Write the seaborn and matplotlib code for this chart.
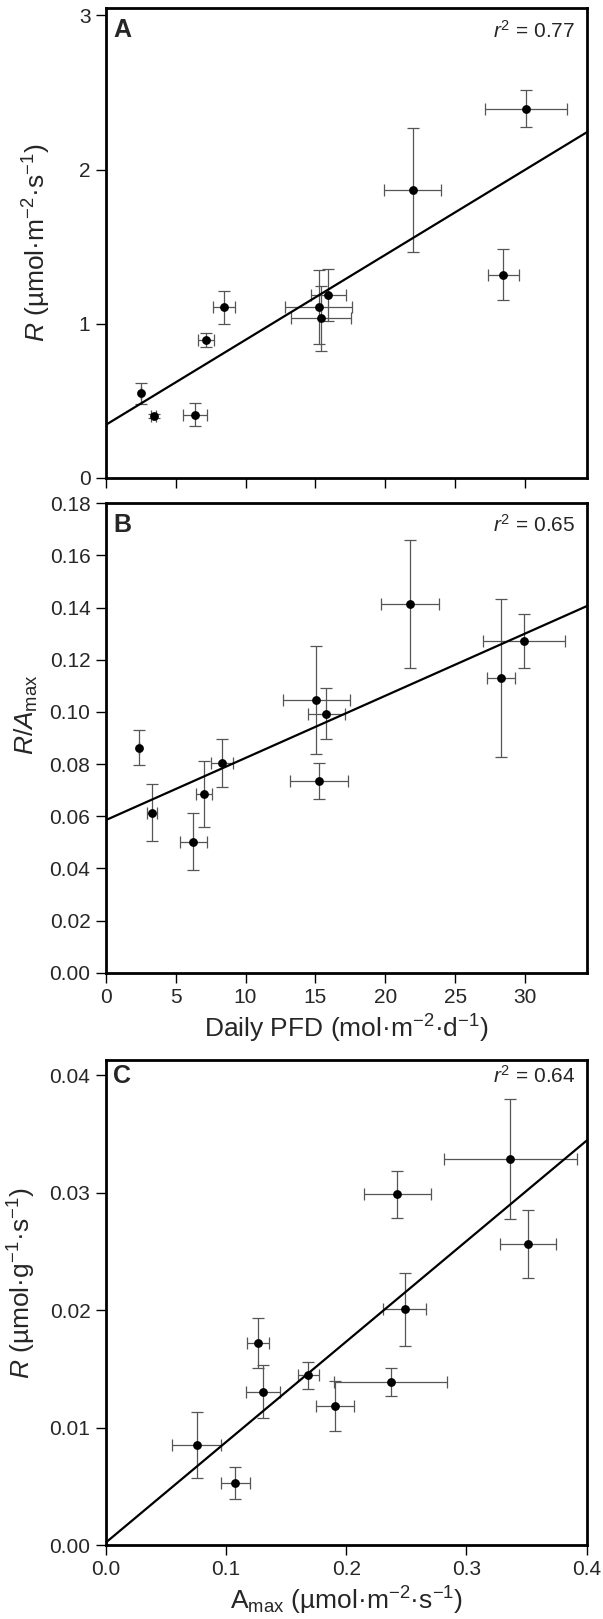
import numpy as np
import matplotlib
matplotlib.use('Agg')
import matplotlib.pyplot as plt
import seaborn as sns

# ---- data ----
# panel A: respiration vs daily PFD
a_pfd = [2.5, 3.43, 6.39, 7.16, 8.48, 15.23, 15.42, 15.92, 21.95, 28.43, 30.08]
a_pfd_err = [0.0, 0.2, 0.88, 0.58, 0.78, 2.4, 2.15, 1.26, 2.06, 1.1, 2.92]
a_r = [0.547, 0.401, 0.408, 0.894, 1.106, 1.106, 1.035, 1.187, 1.868, 1.319, 2.395]
a_r_err = [0.067, 0.01, 0.074, 0.046, 0.107, 0.24, 0.21, 0.17, 0.40, 0.163, 0.12]
a_fit = (0.343, 0.0552)   # intercept, slope
a_r2 = 0.77

# panel B: R/Amax vs daily PFD
b_pfd = [2.36, 3.29, 6.26, 7.03, 8.31, 15.07, 15.78, 15.26, 21.76, 28.24, 29.91]
b_pfd_err = [0.0, 0.35, 0.95, 0.58, 0.8, 2.4, 1.33, 2.1, 2.09, 1.0, 2.92]
b_ratio = [0.0863, 0.0614, 0.0503, 0.0685, 0.0804, 0.1044, 0.0993, 0.0734, 0.1414, 0.1132, 0.1273]
b_ratio_err = [0.0068, 0.0108, 0.011, 0.0125, 0.0092, 0.0207, 0.0098, 0.0069, 0.0247, 0.0303, 0.0103]
b_fit = (0.0585, 0.002386)
b_r2 = 0.65

# panel C: mass-based R vs Amax
c_amax = [0.0757, 0.1079, 0.1267, 0.1306, 0.1686, 0.1906, 0.2369, 0.2426, 0.2487, 0.3365, 0.3512]
c_amax_err = [0.0204, 0.0121, 0.0094, 0.0142, 0.0088, 0.0156, 0.0472, 0.0276, 0.0177, 0.0554, 0.0235]
c_r = [0.00854, 0.00526, 0.01723, 0.01304, 0.01446, 0.01184, 0.01386, 0.02986, 0.02006, 0.03288, 0.02564]
c_r_err = [0.0028, 0.00135, 0.00214, 0.00225, 0.00115, 0.00214, 0.0012, 0.002, 0.00309, 0.00513, 0.0029]
c_fit = (0.0002, 0.0856)
c_r2 = 0.64

pfd_ticks = [0, 5, 10, 15, 20, 25, 30]

# ---- style ----
sns.set_theme(style='ticks')
plt.rcParams['font.family'] = ['Liberation Sans', 'DejaVu Sans']
plt.rcParams['mathtext.fontset'] = 'custom'
plt.rcParams['mathtext.rm'] = 'Liberation Sans'
plt.rcParams['mathtext.it'] = 'Liberation Sans:italic'
plt.rcParams['mathtext.bf'] = 'Liberation Sans:bold'

fig = plt.figure(figsize=(6.03, 16.19), dpi=100)
axA = fig.add_axes([0.1753, 0.7049, 0.7977, 0.2903])
axB = fig.add_axes([0.1753, 0.3992, 0.7977, 0.2899])
axC = fig.add_axes([0.1753, 0.0457, 0.7977, 0.2996])


def panel(ax, x, xerr, y, yerr, fit, r2, letter, xlim, ylim, letter_y):
    ax.errorbar(x, y, xerr=xerr, yerr=yerr, fmt='none', ecolor='#555555',
                elinewidth=0.9, capsize=4, capthick=0.9, zorder=2)
    sns.scatterplot(x=x, y=y, ax=ax, color='black', s=40, edgecolor='black',
                    linewidth=0, zorder=3)
    xs = np.array(xlim)
    sns.lineplot(x=xs, y=fit[0] + fit[1] * xs, ax=ax, color='black', lw=1.6,
                 zorder=4)
    ax.set_xlim(xlim)
    ax.set_ylim(ylim)
    for s in ax.spines.values():
        s.set_visible(True)
        s.set_linewidth(2.0)
        s.set_color('black')
    ax.tick_params(direction='out', length=7, width=1.0, labelsize=15,
                   color='black', pad=4)
    ax.text(0.016, letter_y, letter, transform=ax.transAxes, fontsize=18,
            fontweight='bold', ha='left', va='baseline')
    ax.text(0.976, letter_y, r'$\mathit{r}^2$ = %.2f' % r2, transform=ax.transAxes,
            fontsize=15, ha='right', va='baseline')


panel(axA, a_pfd, a_pfd_err, a_r, a_r_err, a_fit, a_r2, 'A', (0, 34.4), (0, 3.05), 0.937)
axA.set_xticks(pfd_ticks)
axA.set_xticklabels([])
axA.set_yticks([0, 1, 2, 3])
axA.set_ylabel(r'$\mathit{R}$ (µmol·m$^{-2}$·s$^{-1}$)', fontsize=19)
axA.yaxis.set_label_coords(-0.109, 0.5)

panel(axB, b_pfd, b_pfd_err, b_ratio, b_ratio_err, b_fit, b_r2, 'B', (0, 34.4), (0, 0.18), 0.9395)
axB.set_xticks(pfd_ticks)
axB.set_yticks(np.arange(0, 0.181, 0.02))
axB.yaxis.set_major_formatter(matplotlib.ticker.FormatStrFormatter('%.2f'))
axB.set_ylabel(r'$\mathit{R}/\mathit{A}_{\mathrm{max}}$', fontsize=19)
axB.yaxis.set_label_coords(-0.137, 0.55)
axB.set_xlabel(r'Daily PFD (mol·m$^{-2}$·d$^{-1}$)', fontsize=19, labelpad=4)

panel(axC, c_amax, c_amax_err, c_r, c_r_err, c_fit, c_r2, 'C', (0, 0.4), (0, 0.0413), 0.952)
axC.set_xticks([0, 0.1, 0.2, 0.3, 0.4])
axC.xaxis.set_major_formatter(matplotlib.ticker.FormatStrFormatter('%.1f'))
axC.set_yticks([0, 0.01, 0.02, 0.03, 0.04])
axC.yaxis.set_major_formatter(matplotlib.ticker.FormatStrFormatter('%.2f'))
axC.set_ylabel(r'$\mathit{R}$ (µmol·g$^{-1}$·s$^{-1}$)', fontsize=19)
axC.yaxis.set_label_coords(-0.14, 0.54)
axC.set_xlabel(r'A$_{\mathrm{max}}$ (µmol·m$^{-2}$·s$^{-1}$)', fontsize=19, labelpad=4)

fig.savefig('out.png', dpi=100)
